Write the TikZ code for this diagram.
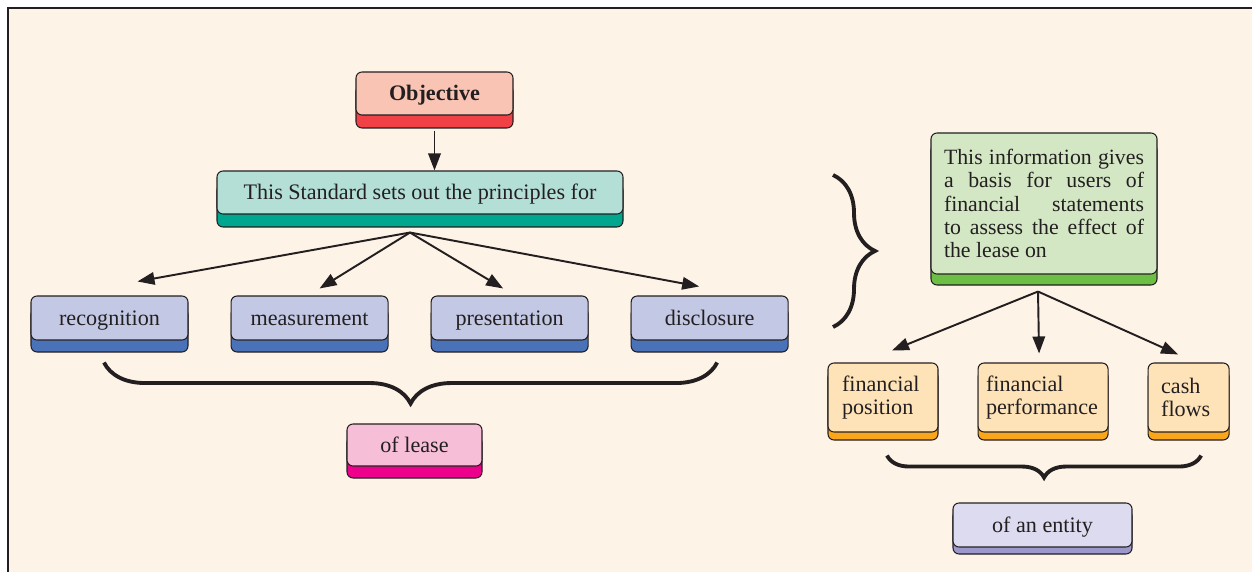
\documentclass[tikz,border=0pt]{standalone}
\usepackage{fontspec}
\setmainfont{Liberation Serif}
\usepackage{tikz}
\usetikzlibrary{arrows.meta,positioning,shadows,decorations.pathreplacing}
\definecolor{inkline}{HTML}{231F20}
\definecolor{paper}{HTML}{FEF3E7}
\definecolor{objface}{HTML}{F9C4B4}
\definecolor{objside}{HTML}{EF4146}
\definecolor{stdface}{HTML}{B4DFD7}
\definecolor{stdside}{HTML}{00A78E}
\definecolor{blueface}{HTML}{C3C8E4}
\definecolor{blueside}{HTML}{4A72B8}
\definecolor{pinkface}{HTML}{F7BED8}
\definecolor{pinkside}{HTML}{EC008C}
\definecolor{greenface}{HTML}{D4E7C4}
\definecolor{greenside}{HTML}{6DBE45}
\definecolor{orangeface}{HTML}{FEE3B9}
\definecolor{orangeside}{HTML}{FAA61A}
\definecolor{lilacface}{HTML}{DCDBF0}
\definecolor{lilacside}{HTML}{9C98CB}
\tikzset{
  keybox/.style n args={3}{draw=inkline, line width=0.6pt, rounded corners=1.2mm,
    fill=#1, inner sep=0pt, align=center, text=inkline,
    font=\fontsize{12.6}{13.4}\selectfont,
    general shadow={draw=inkline, line width=0.6pt, fill=#2, shadow yshift=-#3}},
  oneline/.style={text height=9pt, text depth=1pt},
  flowarrow/.style={-{Triangle[length=3.4mm,width=2.5mm]},line width=1.1pt,draw=inkline},
  bracepath/.style={decorate,line width=2.2pt,draw=inkline}
}

\begin{document}
\begin{tikzpicture}
  \useasboundingbox (0,0) rectangle (25.04,-11.44);
  \fill[white] (0,0) rectangle (25.04,-11.44);
  \draw[fill=paper, draw=inkline, line width=1.1pt] (0.154,-0.154) rectangle (26,-12.5);
  % Left tree: objective and principles
  \node (objective) at (8.69,-1.87) [keybox={objface}{objside}{0.26cm}, oneline, minimum width=3.14cm, minimum height=0.86cm] {\textbf{Objective}};
  \node (standard) at (8.40,-3.85) [keybox={stdface}{stdside}{0.26cm}, oneline, minimum width=8.12cm, minimum height=0.86cm] {This Standard sets out the principles for};
  \node (recognition) at (2.19,-6.36) [keybox={blueface}{blueside}{0.24cm}, oneline, minimum width=3.14cm, minimum height=0.88cm] {recognition};
  \node (measurement) [right=0.84cm of recognition, keybox={blueface}{blueside}{0.24cm}, oneline, minimum width=3.14cm, minimum height=0.88cm] {measurement};
  \node (presentation) [right=0.84cm of measurement, keybox={blueface}{blueside}{0.24cm}, oneline, minimum width=3.14cm, minimum height=0.88cm] {presentation};
  \node (disclosure) [right=0.84cm of presentation, keybox={blueface}{blueside}{0.24cm}, oneline, minimum width=3.14cm, minimum height=0.88cm] {disclosure};
  \node (oflease) at (8.29,-8.90) [keybox={pinkface}{pinkside}{0.24cm}, oneline, minimum width=2.7cm, minimum height=0.84cm] {of lease};
  % Right tree: information for users
  \node (info) at (20.88,-4.07) [keybox={greenface}{greenside}{0.22cm}, font=\fontsize{12.4}{13.2}\selectfont, text width=4.0cm, inner xsep=0.26cm, minimum height=2.82cm, align=justify] {This information gives\linebreak a basis for users of\linebreak financial statements\linebreak to assess the effect of\linebreak the lease on};
  \node (position) at (17.66,-7.95) [keybox={orangeface}{orangeside}{0.16cm}, text width=1.64cm, inner xsep=0.28cm, minimum height=1.38cm, align=left] {financial\\position};
  \node (performance) [right=0.78cm of position, keybox={orangeface}{orangeside}{0.16cm}, text width=2.28cm, inner xsep=0.16cm, minimum height=1.38cm, align=left] {financial\\performance};
  \node (cashflows) [right=0.78cm of performance, keybox={orangeface}{orangeside}{0.16cm}, text width=1.1cm, inner xsep=0.26cm, minimum height=1.38cm, align=left] {cash\\flows};
  \node (entity) at (20.85,-10.50) [keybox={lilacface}{lilacside}{0.14cm}, oneline, minimum width=3.58cm, minimum height=0.88cm] {of an entity};
  % Fan points and brace ends
  \coordinate (fanlease) at ([xshift=-0.2cm,yshift=-0.36cm]standard.south);
  \coordinate (faninfo) at ([xshift=-0.12cm,yshift=-0.34cm]info.south);
  \coordinate (leasebraceL) at ([shift={(-0.11,-0.44)}]recognition.south);
  \coordinate (leasebraceR) at ([shift={(0.15,-0.44)}]disclosure.south);
  \coordinate (infobraceT) at (16.66,-3.50);
  \coordinate (infobraceB) at (16.66,-6.54);
  \coordinate (entitybraceL) at ([shift={(0.08,-0.46)}]position.south);
  \coordinate (entitybraceR) at ([shift={(0.25,-0.46)}]cashflows.south);
  % Edges
  \draw[flowarrow] ([yshift=-0.3cm]objective.south) -- (objective.south |- standard.north);
  \draw[flowarrow] (fanlease) -- ([shift={(0.56,0.28)}]recognition.north);
  \draw[flowarrow] (fanlease) -- ([shift={(0.20,0.14)}]measurement.north);
  \draw[flowarrow] (fanlease) -- ([shift={(-0.13,0.14)}]presentation.north);
  \draw[flowarrow] (fanlease) -- ([shift={(-0.21,0.18)}]disclosure.north);
  \draw[flowarrow] (faninfo) -- ([shift={(0.18,0.24)}]position.north);
  \draw[flowarrow] (faninfo) -- ([shift={(-0.08,0.18)}]performance.north);
  \draw[flowarrow] (faninfo) -- ([shift={(-0.21,0.16)}]cashflows.north);
  % Braces
  \draw[bracepath, decoration={brace,mirror,amplitude=0.82cm}] (leasebraceL) -- (leasebraceR);
  \draw[bracepath, decoration={brace,amplitude=0.84cm}] (infobraceT) -- (infobraceB);
  \draw[bracepath, decoration={brace,mirror,amplitude=0.44cm}] (entitybraceL) -- (entitybraceR);
\end{tikzpicture}
\end{document}
